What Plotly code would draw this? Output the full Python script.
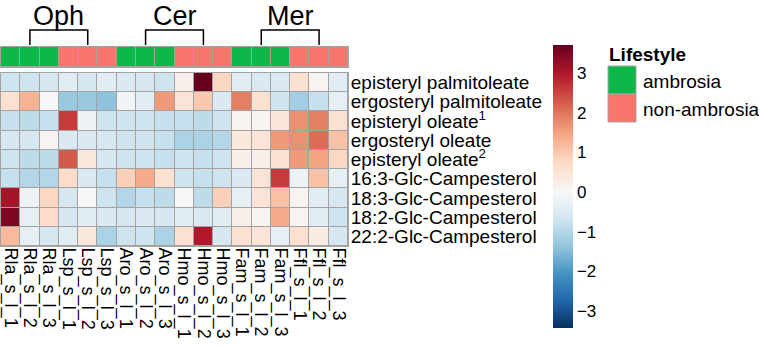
import plotly.graph_objects as go

samples = ["Rla_s_l_1", "Rla_s_l_2", "Rla_s_l_3", "Lsp_s_l_1", "Lsp_s_l_2", "Lsp_s_l_3",
           "Aro_s_l_1", "Aro_s_l_2", "Aro_s_l_3", "Hmo_s_l_1", "Hmo_s_l_2", "Hmo_s_l_3",
           "Fam_s_l_1", "Fam_s_l_2", "Fam_s_l_3", "Ffl_s_l_1", "Ffl_s_l_2", "Ffl_s_l_3"]
lipids = ["episteryl palmitoleate", "ergosteryl palmitoleate", "episteryl oleate<sup>1</sup>",
          "ergosteryl oleate", "episteryl oleate<sup>2</sup>", "16:3-Glc-Campesterol",
          "18:3-Glc-Campesterol", "18:2-Glc-Campesterol", "22:2-Glc-Campesterol"]
lifestyle = ["ambrosia"] * 3 + ["non-ambrosia"] * 3 + ["ambrosia"] * 3 + ["non-ambrosia"] * 3 + \
            ["ambrosia"] * 3 + ["non-ambrosia"] * 3
lifestyle_levels = ["ambrosia", "non-ambrosia"]
lifestyle_colors = ["#0DB84A", "#F8766D"]
groups = ["Oph", "Cer", "Mer"]
group_span = [(1, 4), (7, 10), (13, 16)]

values = [
    [-0.7, -0.7, -0.6, -0.4, -0.6, -0.4, -0.5, -0.6, -0.7, 0.2, 3.72, 0.8, -0.4, -0.5, -0.5, 0.6, 0.1, -0.4],
    [0.6, 1.3, 0.0, -1.3, -1.3, -1.4, -0.1, -0.4, 1.6, 0.5, 1.0, -0.5, 1.9, 0.6, -0.7, -1.2, -0.8, -0.3],
    [-0.8, -0.9, -0.8, 2.6, -0.2, -0.7, -0.7, -0.7, -0.8, -0.8, -0.9, -0.7, 0.1, 0.1, 0.5, 1.7, 1.9, 0.6],
    [-0.6, -0.6, 0.1, -0.5, -0.5, -0.6, -0.7, -0.7, -0.8, -1.1, -1.1, -1.0, 0.4, 0.5, 1.6, 1.7, 2.1, 1.1],
    [-0.7, -0.9, -0.9, 2.3, 0.4, -0.6, -0.7, -0.7, -0.8, -0.7, -0.8, -0.7, 0.2, 0.2, 0.6, 1.6, 1.5, 0.8],
    [-0.8, -1.0, -1.0, 0.7, -0.5, -0.8, 0.9, 1.4, 0.6, -0.7, -0.8, -0.7, -0.5, 0.5, 2.6, -0.2, 1.1, -0.3],
    [3.1, -0.2, 0.8, -0.6, 0.0, -0.7, -1.0, -0.8, -0.9, 0.0, -0.9, 0.9, -0.3, 0.5, 1.1, 0.1, -0.4, -0.6],
    [3.5, -0.3, 0.7, -0.6, -0.4, -0.5, -0.6, -0.5, -0.6, -0.4, -0.5, -0.4, 0.2, 0.1, 1.4, 0.1, -0.4, -0.7],
    [1.2, -0.3, -0.6, -0.4, 0.4, -1.1, -0.7, -0.7, -1.1, 0.6, 3.0, -0.6, 0.6, 0.5, -0.3, 0.6, 0.3, -0.6],
]
zmin, zmax = -3.44, 3.72

W, H = 759, 349
def px_x(x):
    return x / W
def px_y(y):
    return 1 - y / H

blues = ["#053061", "#2166AC", "#4393C3", "#92C5DE", "#D1E5F0"]
reds = ["#FDDBC7", "#F4A582", "#D6604D", "#B2182B", "#67001F"]
p0 = (0 - zmin) / (zmax - zmin)
cs = []
for i, c in enumerate(blues):
    cs.append([p0 * i / 5, c])
cs.append([p0, "#F7F7F7"])
for i, c in enumerate(reds):
    cs.append([p0 + (1 - p0) * (i + 1) / 5, c])

ncol = len(samples)
nrow = len(lipids)
xs = list(range(ncol))
ys = list(range(nrow))
grid = "#A3A3A3"

fig = go.Figure()
fig.add_trace(go.Heatmap(
    z=values, x=xs, y=ys, zmin=zmin, zmax=zmax, colorscale=cs, xgap=1, ygap=1,
    xaxis="x", yaxis="y",
    colorbar=dict(thickness=20, thicknessmode="pixels", len=283, lenmode="pixels",
                  x=px_x(553), xanchor="left", y=px_y(45), yanchor="top", xpad=0, ypad=0,
                  outlinewidth=0, ticks="", tickvals=[-3, -2, -1, 0, 1, 2, 3],
                  tickfont=dict(size=17, color="black"), ticklabelposition="outside"),
))
lcode = [[lifestyle_levels.index(v) for v in lifestyle]]
fig.add_trace(go.Heatmap(
    z=lcode, x=xs, y=[0], zmin=0, zmax=1,
    colorscale=[[0, lifestyle_colors[0]], [0.5, lifestyle_colors[0]], [0.5, lifestyle_colors[1]], [1, lifestyle_colors[1]]],
    showscale=False, xgap=1, ygap=1, xaxis="x2", yaxis="y2",
))

shapes = []
annotations = []
for g, (a, b) in zip(groups, group_span):
    shapes.append(dict(type="path", xref="x", yref="paper",
                       path=f"M {a} {px_y(45)} L {a} {px_y(30)} L {b} {px_y(30)} L {b} {px_y(45)}",
                       line=dict(color="black", width=1.5)))
    annotations.append(dict(text=g, x=(a + b) / 2, xref="x", y=1, yref="paper",
                            showarrow=False, font=dict(size=27, color="black"),
                            xanchor="center", yanchor="top", borderpad=0))

# legend
annotations.append(dict(text="<b>Lifestyle</b>", x=px_x(607), y=px_y(54), xref="paper", yref="paper",
                        showarrow=False, xanchor="left", yanchor="middle", font=dict(size=19, color="black")))
for i, (lev, col) in enumerate(zip(lifestyle_levels, lifestyle_colors)):
    y0 = 66 + 28 * i
    shapes.append(dict(type="rect", xref="paper", yref="paper", x0=px_x(608), x1=px_x(636),
                       y0=px_y(y0), y1=px_y(y0 + 28), fillcolor=col, line=dict(color=grid, width=1)))
    annotations.append(dict(text=lev, x=px_x(641), y=px_y(y0 + 15), xref="paper", yref="paper",
                            showarrow=False, xanchor="left", yanchor="middle", font=dict(size=19, color="black")))

fig.update_layout(
    width=W, height=H, margin=dict(l=0, r=0, t=0, b=0, autoexpand=False),
    paper_bgcolor="white", plot_bgcolor=grid,
    font=dict(family="Liberation Sans, Arial, sans-serif", color="black"),
    xaxis=dict(domain=[px_x(1), px_x(348)], range=[-0.5, ncol - 0.5], tickvals=xs, ticktext=samples,
               tickangle=90, tickfont=dict(size=18), showgrid=False, zeroline=False, ticks="",
               ticklabeloverflow="allow", ticklabelstandoff=-3,
               showline=True, mirror=True, linecolor=grid, linewidth=1, anchor="y", automargin=False),
    yaxis=dict(domain=[px_y(246), px_y(73)], range=[nrow - 0.5, -0.5], tickvals=ys, ticktext=lipids,
               side="right", tickfont=dict(size=19), showgrid=False, zeroline=False, ticks="",
               ticklabeloverflow="allow", ticklabelstandoff=-2,
               showline=True, mirror=True, linecolor=grid, linewidth=1, anchor="x", automargin=False),
    xaxis2=dict(domain=[px_x(1), px_x(348)], range=[-0.5, ncol - 0.5], showticklabels=False,
                showgrid=False, zeroline=False, ticks="", showline=True, mirror=True,
                linecolor=grid, linewidth=1, anchor="y2", matches="x"),
    yaxis2=dict(domain=[px_y(67), px_y(47)], range=[-0.5, 0.5], showticklabels=False,
                showgrid=False, zeroline=False, ticks="", showline=True, mirror=True,
                linecolor=grid, linewidth=1, anchor="x2"),
    shapes=shapes, annotations=annotations,
)
fig.write_html("out.html", config={"displayModeBar": False},
               post_script="document.body.style.margin='0';document.body.style.overflow='hidden';")
